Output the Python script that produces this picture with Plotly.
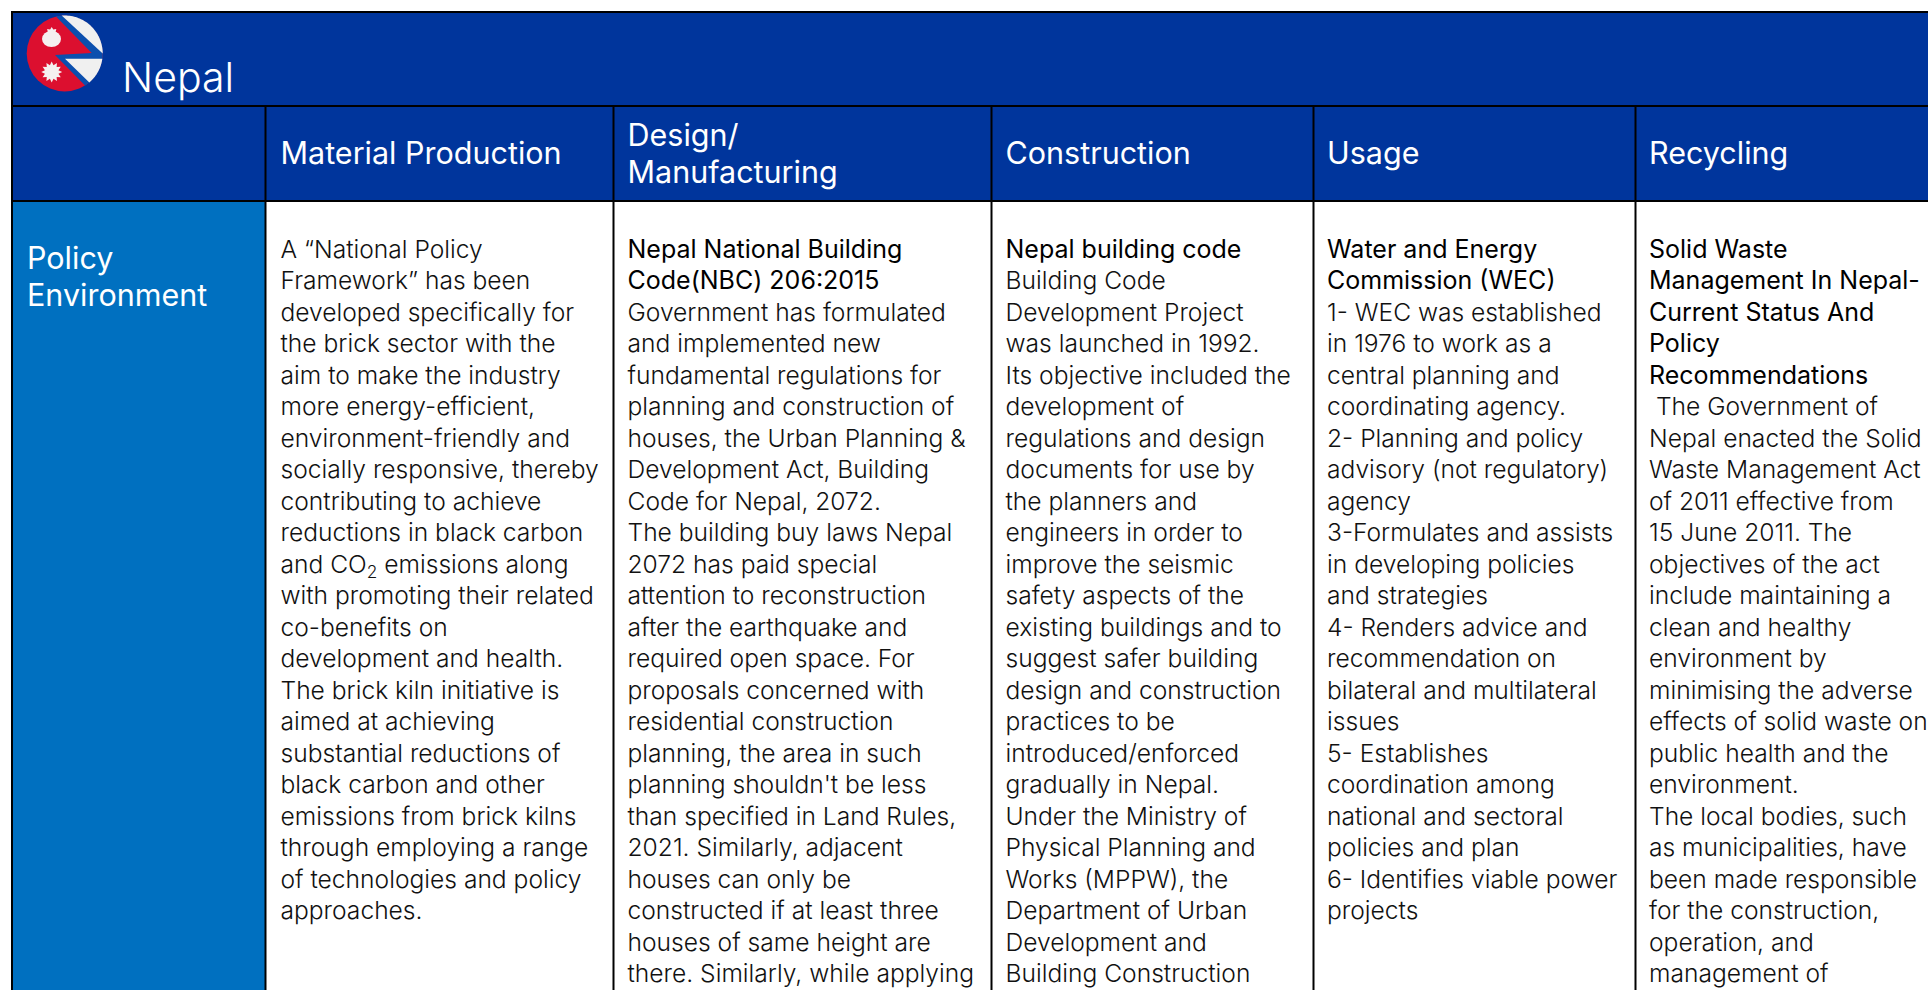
import math
import plotly.graph_objects as go

TITLE = "Nepal"
ROW_LABEL = ["Policy", "Environment"]
HEADERS = [["Material Production"], ["Design/", "Manufacturing"], ["Construction"], ["Usage"], ["Recycling"]]
COL_1 = ["A “National Policy", "Framework” has been", "developed specifically for", "the brick sector with the",
         "aim to make the industry", "more energy-efficient,", "environment-friendly and", "socially responsive, thereby",
         "contributing to achieve", "reductions in black carbon", "and CO<sub>2</sub> emissions along", "with promoting their related",
         "co-benefits on", "development and health.", "The brick kiln initiative is", "aimed at achieving",
         "substantial reductions of", "black carbon and other", "emissions from brick kilns", "through employing a range",
         "of technologies and policy", "approaches."]
COL_2_HEAD = ["Nepal National Building", "Code(NBC) 206:2015"]
COL_2 = ["Government has formulated", "and implemented new", "fundamental regulations for", "planning and construction of",
         "houses, the Urban Planning &", "Development Act, Building", "Code for Nepal, 2072.", "The building buy laws Nepal",
         "2072 has paid special", "attention to reconstruction", "after the earthquake and", "required open space. For",
         "proposals concerned with", "residential construction", "planning, the area in such", "planning shouldn't be less",
         "than specified in Land Rules,", "2021. Similarly, adjacent", "houses can only be", "constructed if at least three",
         "houses of same height are", "there. Similarly, while applying"]
COL_3_HEAD = ["Nepal building code"]
COL_3 = ["Building Code", "Development Project", "was launched in 1992.", "Its objective included the",
         "development of", "regulations and design", "documents for use by", "the planners and",
         "engineers in order to", "improve the seismic", "safety aspects of the", "existing buildings and to",
         "suggest safer building", "design and construction", "practices to be", "introduced/enforced",
         "gradually in Nepal.", "Under the Ministry of", "Physical Planning and", "Works (MPPW), the",
         "Department of Urban", "Development and", "Building Construction"]
COL_4_HEAD = ["Water and Energy", "Commission (WEC)"]
COL_4 = ["1- WEC was established", "in 1976 to work as a", "central planning and", "coordinating agency.",
         "2- Planning and policy", "advisory (not regulatory)", "agency", "3-Formulates and assists",
         "in developing policies", "and strategies", "4- Renders advice and", "recommendation on",
         "bilateral and multilateral", "issues", "5- Establishes", "coordination among",
         "national and sectoral", "policies and plan", "6- Identifies viable power", "projects"]
COL_5_HEAD = ["Solid Waste", "Management In Nepal-", "Current Status And", "Policy", "Recommendations"]
COL_5 = [" The Government of", "Nepal enacted the Solid", "Waste Management Act", "of 2011 effective from",
         "15 June 2011. The", "objectives of the act", "include maintaining a", "clean and healthy",
         "environment by", "minimising the adverse", "effects of solid waste on", "public health and the",
         "environment.", "The local bodies, such", "as municipalities, have", "been made responsible",
         "for the construction,", "operation, and", "management of"]

BODY_FONT = "Inter"
HEAD_SIZE = 30.5
BODY_SIZE = 24.6
LEAD_SIZE = 25
NAVY = "#00359c"
BLUE = "#0070c0"
INK = "#111111"
COL_X = [12, 265.5, 613.5, 991.5, 1313.5, 1635.5, 1940]
PAD = [15, 14, 14, 13.5, 13.5]
LINE_H = 31.5

fig = go.Figure()


def rect(x0, y0, x1, y1, fill):
    fig.add_shape(type="rect", x0=x0, y0=y0, x1=x1, y1=y1, fillcolor=fill, line_width=0, layer="below")


def vline(x, y0, y1):
    fig.add_shape(type="line", x0=x, x1=x, y0=y0, y1=y1, line=dict(color="black", width=2))


def hline(y, x0, x1):
    fig.add_shape(type="line", x0=x0, x1=x1, y0=y, y1=y, line=dict(color="black", width=2))


def text(x, y, lines, size, color, weight=300, step=LINE_H):
    fig.add_trace(go.Scatter(
        x=[x] * len(lines), y=[y + i * step for i in range(len(lines))], mode="text",
        text=lines, textposition="middle right", hoverinfo="skip", showlegend=False,
        textfont=dict(family=BODY_FONT, size=size, color=color, weight=weight)))


def poly(points, fill):
    d = "M" + " L".join(f"{x:.2f},{y:.2f}" for x, y in points) + " Z"
    fig.add_shape(type="path", path=d, fillcolor=fill, line_width=0)


CX, CY, R = 64.7, 53.5, 38


def arc(x0, y0, x1, y1):
    a0 = math.atan2(y0 - CY, x0 - CX)
    a1 = math.atan2(y1 - CY, x1 - CX)
    while a1 < a0:
        a1 += 2 * math.pi
    n = 40
    return [(CX + R * math.cos(a0 + (a1 - a0) * i / n), CY + R * math.sin(a0 + (a1 - a0) * i / n)) for i in range(n + 1)]


def star(cx, cy, ro, ri, n, a0=-math.pi / 2):
    return [(cx + (ro if i % 2 == 0 else ri) * math.cos(a0 + i * math.pi / n),
             cy + (ro if i % 2 == 0 else ri) * math.sin(a0 + i * math.pi / n)) for i in range(2 * n)]


rect(12, 12, 1940, 201, NAVY)
rect(12, 201, 265, 1000, BLUE)
rect(265, 201, 1940, 1000, "white")
hline(12, 11, 1940)
hline(106, 12, 1940)
hline(201, 12, 1940)
vline(12, 11, 1000)
for x in COL_X[1:-1]:
    vline(x, 106, 1000)

# Flag
fig.add_shape(type="circle", x0=CX - R, x1=CX + R, y0=CY - R, y1=CY + R, fillcolor="#dc0f2f", line_width=0)
poly(arc(56, 16.5, 85, 85.5) + [(55, 55), (91.7, 53)], "#0b4fae")
poly(arc(61.7, 15.6, 102.7, 53.5), "#f0f0f0")
poly([(65, 58.7)] + arc(102.4, 58.7, 89.3, 82.4), "#f0f0f0")
poly(star(51.7, 72, 10.5, 7, 12), "#f5f0f0")
poly(star(51.7, 33.5, 6.5, 4.2, 8), "#f5f0f0")
fig.add_shape(type="circle", x0=42, x1=61, y0=31, y1=47, fillcolor="#f5f0f0", line_width=0)

text(122, 81.5, [TITLE], 41, "white", 300)
for i, h in enumerate(HEADERS):
    y = 156.5 if len(h) == 1 else 138.5
    text(COL_X[i + 1] + PAD[i], y, h, HEAD_SIZE, "white", 400, 37)
text(27, 261.5, ROW_LABEL, HEAD_SIZE, "white", 400, 37)

Y0 = 251.5
cols = [([], COL_1), (COL_2_HEAD, COL_2), (COL_3_HEAD, COL_3), (COL_4_HEAD, COL_4), (COL_5_HEAD, COL_5)]
for i, (head, body) in enumerate(cols):
    x = COL_X[i + 1] + PAD[i]
    if head:
        text(x, Y0, head, LEAD_SIZE, "#000000", 400)
    text(x, Y0 + len(head) * LINE_H, body, BODY_SIZE, INK, 300)

fig.update_layout(
    width=1928, height=990, margin=dict(l=0, r=0, t=0, b=0), paper_bgcolor="white", plot_bgcolor="white",
    xaxis=dict(range=[0, 1928], visible=False, fixedrange=True),
    yaxis=dict(range=[990, 0], visible=False, fixedrange=True), showlegend=False)
fig.write_html("out.html", config=dict(displayModeBar=False),
               post_script="document.body.style.margin='0';document.body.style.overflow='hidden';")
